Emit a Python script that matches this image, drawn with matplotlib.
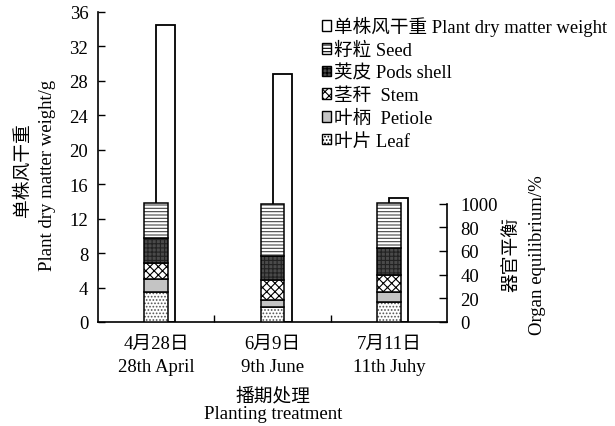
import matplotlib
matplotlib.use("Agg")
import matplotlib.pyplot as plt
from matplotlib.patches import Patch
import numpy as np

plt.rcParams['font.family'] = ['Liberation Serif', 'Noto Sans CJK SC']
plt.rcParams['hatch.linewidth'] = 0.8

categories = ["4月28日\n28th April", "6月9日\n9th June", "7月11日\n11th Juhy"]
plant_dry_weight = [34.5, 28.8, 14.4]
leaf = [25.0, 12.4, 16.6]
petiole = [11.5, 6.4, 8.4]
stem = [13.0, 17.0, 15.0]
pods_shell = [21.0, 20.3, 22.4]
seed = [29.5, 43.9, 37.6]
left_ticks = [0, 4, 8, 12, 16, 20, 24, 28, 32, 36]
right_ticks = [0, 20, 40, 60, 80, 100]
right_tick_labels = ["0", "20", "40", "60", "80", "1000"]

labels_legend = ["单株风干重 Plant dry matter weight", "籽粒 Seed", "荚皮 Pods shell",
                 "茎秆  Stem", "叶柄  Petiole", "叶片 Leaf"]

fig = plt.figure(figsize=(6.15, 4.27), dpi=100)
ax = fig.add_axes([98/615, 1-323/427, (447-98)/615, 310/427])
ax2 = ax.twinx()
ax2.set_zorder(ax.get_zorder() + 1)
ax2.patch.set_visible(False)

x = np.arange(len(categories))
w_stack = 0.206
w_white = 0.165

ax.bar(x, plant_dry_weight, width=w_white, align='edge', color='white',
       edgecolor='black', linewidth=1.3)

styles = [
    (leaf, 'white', '#555555', '.....'),
    (petiole, '#c4c4c4', None, None),
    (stem, 'white', 'black', 'xxxx'),
    (pods_shell, '#4a4a4a', '#222222', '++++'),
    (seed, 'white', '#444444', '-----'),
]
bottom = np.zeros(len(categories))
for vals, fc, hc, hatch in styles:
    vals = np.array(vals)
    if hatch:
        ax2.bar(x, vals, bottom=bottom, width=w_stack, color=fc, edgecolor=hc,
                hatch=hatch, linewidth=0)
    else:
        ax2.bar(x, vals, bottom=bottom, width=w_stack, color=fc, linewidth=0)
    ax2.bar(x, vals, bottom=bottom, width=w_stack, fill=False, edgecolor='black', linewidth=1.1)
    bottom += vals

ax.set_xlim(-0.5, 2.5)
ax.set_ylim(0, 36)
ax2.set_ylim(0, 100 * 310 / 118.5)

ax.set_yticks(left_ticks)
ax.tick_params(axis='y', direction='in', length=5, width=1, labelsize=13.5, pad=7)
ax.set_xticks(x)
ax.set_xticklabels(categories, fontsize=13.5, linespacing=1.5)
ax.tick_params(axis='x', length=0, pad=9)
ax.set_xticks([0.5, 1.5], minor=True)
ax.tick_params(axis='x', which='minor', direction='in', length=5, width=1)

for s in ['top', 'right']:
    ax.spines[s].set_visible(False)
for s in ['top', 'left', 'bottom']:
    ax2.spines[s].set_visible(False)
ax2.spines['right'].set_bounds(0, 100)
ax.spines['left'].set_linewidth(1.2)
ax.spines['bottom'].set_linewidth(1.2)
ax2.spines['right'].set_linewidth(1.2)
ax2.set_yticks(right_ticks)
ax2.set_yticklabels(right_tick_labels)
ax2.tick_params(axis='y', direction='in', length=6, width=1, labelsize=13.5, pad=9.5)

fig.text(23/615, 1-170/427, "单株风干重", rotation=90, ha='center', va='center', fontsize=13.5)
fig.text(48/615, 1-175/427, "Plant dry matter weight/g", rotation=90, ha='center', va='center', fontsize=13.5)
fig.text(512/615, 1-254/427, "器官平衡", rotation=90, ha='center', va='center', fontsize=13.5)
fig.text(537/615, 1-255/427, "Organ equilibrium/%", rotation=90, ha='center', va='center', fontsize=13.5)
fig.text(273/615, 1-397/427, "播期处理", ha='center', va='center', fontsize=13.5)
fig.text(273/615, 1-415/427, "Planting treatment", ha='center', va='center', fontsize=13.5)

handles = [
    Patch(facecolor='white', edgecolor='black'),
    Patch(facecolor='white', edgecolor='black', hatch='-----'),
    Patch(facecolor='#4a4a4a', edgecolor='black', hatch='++++'),
    Patch(facecolor='white', edgecolor='black', hatch='xxxx'),
    Patch(facecolor='#c4c4c4', edgecolor='black'),
    Patch(facecolor='white', edgecolor='black', hatch='.....'),
]
leg = fig.legend(handles, labels_legend, loc='upper left', bbox_to_anchor=(322/615, 1-17/427),
                 frameon=False, fontsize=13.4, handlelength=0.5, handleheight=0.5,
                 handletextpad=0.15, labelspacing=0.3, borderaxespad=0, borderpad=0)

fig.savefig("out.png", dpi=100)
